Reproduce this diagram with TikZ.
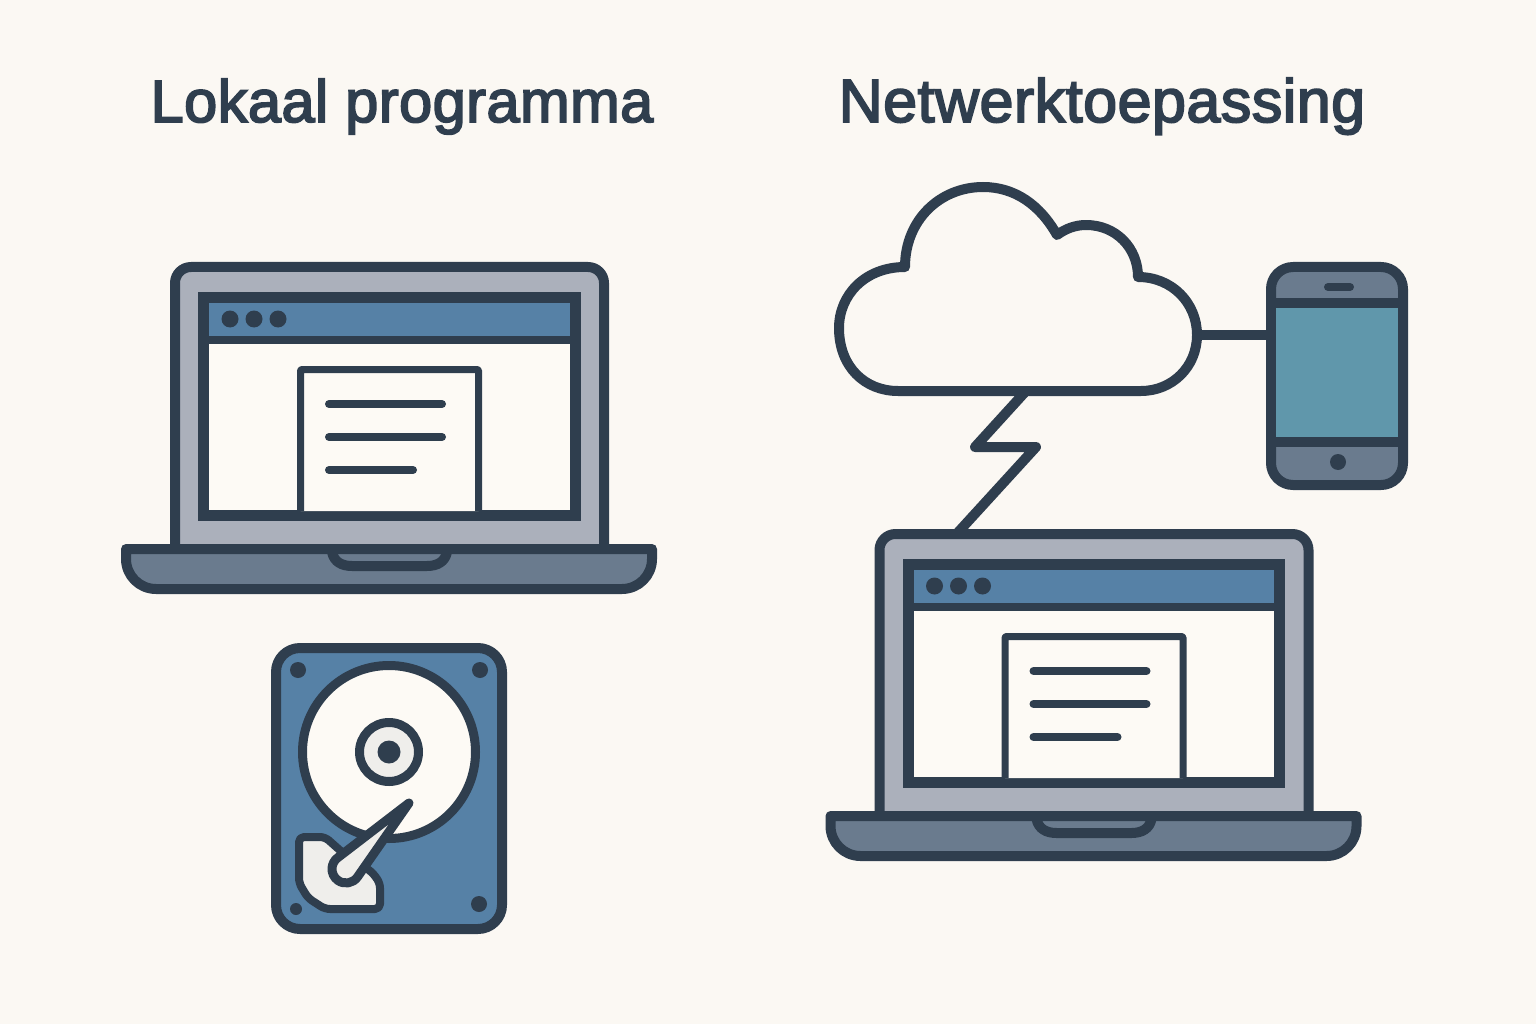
\documentclass[tikz,border=0pt]{standalone}
\usepackage{fontspec}
\newfontfamily\headingfont[FakeBold=3,LetterSpace=0.8]{Liberation Sans}
\usepackage{tikz}

\definecolor{paper}{HTML}{FBF8F3}
\definecolor{ink}{HTML}{2F3E4E}
\definecolor{sheet}{HTML}{FDFAF5}
\definecolor{lidgrey}{HTML}{ABB0BB}
\definecolor{basegrey}{HTML}{6A7B8E}
\definecolor{barblue}{HTML}{5681A6}
\definecolor{screenteal}{HTML}{6097AB}
\definecolor{hubgrey}{HTML}{EFEEEB}

\tikzset{
  outline/.style={draw=ink,line width=10pt,line join=round},
  thinline/.style={draw=ink,line width=7pt,line join=round},
  textline/.style={draw=ink,line width=8pt,line cap=round},
  dot/.style={fill=ink},
  heading/.style={text=ink,anchor=base,font=\fontsize{#1}{60}\selectfont\headingfont},
  pics/laptop/.style={code={
    \draw[outline,fill=lidgrey,rounded corners=16pt] (175,549) -- (175,267) -- (604,267) -- (604,549);
    \draw[outline,fill=sheet,line width=11pt,line join=miter] (203.5,297.5) rectangle (575,515.5);
    \fill[barblue] (209,303) rectangle (569.5,336);
    \draw[outline,line width=8pt] (203.5,340) -- (575,340);
    \foreach \x in {230,254,278} \fill[dot] (\x,319) circle (8.5);
    \draw[thinline,fill=sheet,rounded corners=1pt] (300.5,511) -- (300.5,369.5) -- (478.5,369.5) -- (478.5,511);
    \draw[textline] (329,404) -- (442,404);
    \draw[textline] (329,437) -- (442,437);
    \draw[textline] (329,470) -- (413,470);
    \draw[outline,fill=basegrey] (126,549) -- (652,549) -- (652,559)
      arc[start angle=0,end angle=90,radius=30] -- (156,589)
      arc[start angle=90,end angle=180,radius=30] -- cycle;
    \draw[outline] (332,552) .. controls (334,562) and (342,566) .. (352,566) -- (427,566)
      .. controls (437,566) and (445,562) .. (447,552);
    \coordinate (-top) at (252,267);
  }}
}

\begin{document}
\begin{tikzpicture}[x=1pt,y=-1pt]

  \fill[paper] (0,0) rectangle (1536,1024);
  \useasboundingbox (0,0) rectangle (1536,1024);

  \node[heading=59.5] (localtitle) at (402,122) {Lokaal programma};
  \node[heading=61] (nettitle) at (1102,122) {Netwerktoepassing};

  \pic (locallaptop) at (0,0) {laptop};
  \pic (netlaptop) at (704.5,267) {laptop};

  % harde schijf
  \draw[outline,fill=barblue,rounded corners=24pt] (276,648) rectangle (502,929);
  \foreach \x/\y/\r in {298/670/8,480/670/8,479/904/8,296/909/6} \fill[dot] (\x,\y) circle (\r);
  \draw[outline,fill=sheet,line width=9pt] (389,752) circle (86.5);
  \draw[outline,fill=hubgrey,line width=9pt] (389,752) circle (29.5);
  \fill[dot] (389,752) circle (11.5);
  \draw[thinline,line width=8pt,fill=hubgrey,rounded corners=5pt] (299,837) -- (325,837) -- (343,853) -- (372,872) -- (380,883)
    -- (380,909) -- (325,909) -- (308,898) -- (299,883) -- cycle;
  \draw[thinline,line width=9pt,fill=hubgrey] (409,803) -- (357.48,877.01)
    arc[start angle=34.9,end angle=232.5,radius=14] -- cycle;

  % wolk
  \draw[outline,fill=paper] (905,267) .. controls (905,220) and (940,187) .. (983,187)
    .. controls (1015,187) and (1040,205) .. (1057,235)
    .. controls (1065,229) and (1075,225) .. (1086,225)
    .. controls (1116,225) and (1138,248) .. (1138,277)
    .. controls (1172,277) and (1197,303) .. (1197,335)
    .. controls (1197,367) and (1172,391) .. (1141,391)
    -- (898,391)
    .. controls (865,391) and (839,367) .. (839,328)
    .. controls (839,295) and (865,267) .. (905,267) -- cycle;
  \coordinate (cloudright) at (1197,335);
  \coordinate (cloudbottom) at (1026,391);

  % telefoon
  \node[outline,fill=basegrey,rounded corners=22pt,minimum width=132pt,minimum height=218pt] (phone) at (1337,376) {};
  \draw[outline,fill=screenteal] (1271,303) rectangle (1403,442);
  \draw[outline,line width=8pt,line cap=round] (1328,287) -- (1350,287);
  \fill[dot] (1338,462) circle (8);

  \draw[outline] (cloudright) -- (phone.west |- cloudright);
  \draw[outline] (cloudbottom) -- (975,447) -- (1036,447) -- (netlaptop-top);

\end{tikzpicture}
\end{document}
